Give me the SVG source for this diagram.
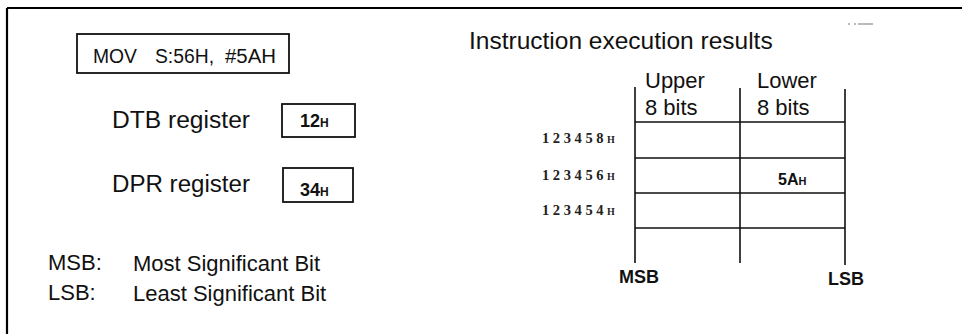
<svg xmlns="http://www.w3.org/2000/svg" width="962" height="334" viewBox="0 0 962 334">
<style>
.t{font-family:"Liberation Sans",Arial,sans-serif;fill:#111}
.b{font-family:"Liberation Sans",Arial,sans-serif;font-weight:bold;fill:#111}
.a{font-family:"Liberation Serif","Times New Roman",serif;font-size:14.5px;font-weight:bold;letter-spacing:3.6px;fill:#222}
.box{fill:none;stroke:#111;stroke-width:1.8}
.ln{stroke:#111;stroke-width:1.6;fill:none}
</style>
<rect width="962" height="334" fill="#fff"/>
<g id="frame">
<path d="M7 8H962M7 8V334" stroke="#000" stroke-width="2.2" fill="none"/>
<path d="M848 24h2M854 24h2M858 24h15" stroke="#777" stroke-width="1.2"/>
</g>
<g id="instruction">
<rect class="box" x="77" y="34" width="212" height="39"/>
<text class="t" font-size="20.5" x="93" y="63" textLength="44" lengthAdjust="spacingAndGlyphs">MOV</text>
<text class="t" font-size="20.5" x="155" y="63" textLength="59" lengthAdjust="spacingAndGlyphs">S:56H,</text>
<text class="t" font-size="20.5" x="225" y="63" textLength="51" lengthAdjust="spacingAndGlyphs">#5AH</text>
</g>
<g id="dtb">
<text class="t" font-size="23" x="112" y="128" textLength="138" lengthAdjust="spacingAndGlyphs">DTB register</text>
<rect class="box" x="282" y="104" width="73" height="33"/>
<text class="b" font-size="18" x="300" y="127">12<tspan font-size="12">H</tspan></text>
</g>
<g id="dpr">
<text class="t" font-size="23" x="112" y="192" textLength="138" lengthAdjust="spacingAndGlyphs">DPR register</text>
<rect class="box" x="283" y="168" width="70" height="34"/>
<text class="b" font-size="18" x="300" y="196">34<tspan font-size="12">H</tspan></text>
</g>
<g id="legend">
<text class="t" font-size="22" x="48" y="270">MSB:</text>
<text class="t" font-size="22" x="133" y="271">Most Significant Bit</text>
<text class="t" font-size="22" x="48" y="300">LSB:</text>
<text class="t" font-size="22" x="133" y="301">Least Significant Bit</text>
</g>
<g id="results-title">
<text class="t" font-size="24.5" x="469" y="49">Instruction execution results</text>
</g>
<g id="memory-table">
<text class="t" font-size="22" x="645" y="88">Upper</text>
<text class="t" font-size="22" x="645" y="115">8 bits</text>
<text class="t" font-size="22" x="757" y="88">Lower</text>
<text class="t" font-size="22" x="757" y="115">8 bits</text>
<path class="ln" d="M635 87V263M740 88V263M845 89V265"/>
<path class="ln" d="M635 122H845M635 158H845M635 193H845M635 228H845"/>
<text class="a" x="542" y="143">123458<tspan font-size="10">H</tspan></text>
<text class="a" x="542" y="180">123456<tspan font-size="10">H</tspan></text>
<text class="a" x="542" y="215">123454<tspan font-size="10">H</tspan></text>
<text class="b" font-size="16" x="778" y="185">5A<tspan font-size="11">H</tspan></text>
<text class="b" font-size="18" x="619" y="283">MSB</text>
<text class="b" font-size="18" x="828" y="285">LSB</text>
</g>
</svg>
